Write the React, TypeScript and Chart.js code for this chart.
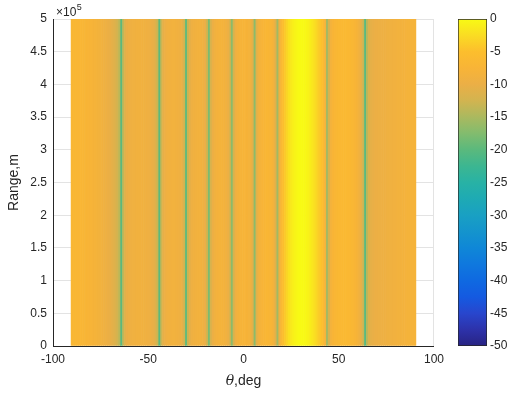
import React, { useEffect, useRef } from "react";
import { Chart, registerables } from "chart.js";

Chart.register(...registerables);

// ---- data -------------------------------------------------------------
// Steering angle samples, degrees
const THETA_DEG = [
  -90, -89, -88, -87, -86, -85, -84, -83, -82, -81,
  -80, -79, -78, -77, -76, -75, -74, -73, -72, -71,
  -70, -69, -68, -67, -66, -65, -64, -63, -62, -61,
  -60, -59, -58, -57, -56, -55, -54, -53, -52, -51,
  -50, -49, -48, -47, -46, -45, -44, -43, -42, -41,
  -40, -39, -38, -37, -36, -35, -34, -33, -32, -31,
  -30, -29, -28, -27, -26, -25, -24, -23, -22, -21,
  -20, -19, -18, -17, -16, -15, -14, -13, -12, -11,
  -10, -9, -8, -7, -6, -5, -4, -3, -2, -1,
  0, 1, 2, 3, 4, 5, 6, 7, 8, 9,
  10, 11, 12, 13, 14, 15, 16, 17, 18, 19,
  20, 21, 22, 23, 24, 25, 26, 27, 28, 29,
  30, 31, 32, 33, 34, 35, 36, 37, 38, 39,
  40, 41, 42, 43, 44, 45, 46, 47, 48, 49,
  50, 51, 52, 53, 54, 55, 56, 57, 58, 59,
  60, 61, 62, 63, 64, 65, 66, 67, 68, 69,
  70, 71, 72, 73, 74, 75, 76, 77, 78, 79,
  80, 81, 82, 83, 84, 85, 86, 87, 88, 89,
  90,
];

// Normalised pattern level (dB) at each angle, same for every range
const GAIN_DB = [
  -6.8, -6.8, -6.8, -6.9, -6.9, -7.0, -7.1, -7.2, -7.3, -7.5,
  -7.6, -7.8, -8.0, -8.2, -8.4, -8.6, -8.9, -9.2, -9.5, -9.8,
  -10.1, -10.5, -11.0, -11.6, -12.5, -14.0, -20.0, -13.5, -11.0, -10.0,
  -9.6, -9.3, -9.1, -9.0, -8.9, -8.9, -8.9, -8.9, -9.0, -9.1,
  -9.3, -9.5, -9.8, -10.3, -11.2, -13.0, -20.0, -13.0, -10.5, -9.6,
  -9.1, -8.9, -8.8, -8.7, -8.7, -8.8, -9.0, -9.4, -10.3, -12.5,
  -19.5, -13.0, -10.5, -9.5, -9.0, -8.8, -8.7, -8.7, -8.8, -9.2,
  -10.0, -12.5, -18.0, -12.0, -10.0, -9.0, -8.5, -8.3, -8.2, -8.2,
  -8.4, -8.8, -9.6, -11.5, -17.0, -12.0, -9.5, -8.5, -8.0, -7.8,
  -7.7, -7.7, -7.8, -8.2, -9.0, -11.0, -17.0, -11.0, -9.0, -8.0,
  -7.5, -7.2, -7.0, -7.0, -7.2, -7.5, -8.5, -11.0, -15.5, -9.0,
  -6.5, -5.0, -4.0, -3.0, -2.2, -1.5, -1.0, -0.6, -0.3, -0.1,
  0.0, 0.0, -0.1, -0.3, -0.6, -1.0, -1.5, -2.0, -2.6, -3.3,
  -4.0, -4.8, -5.8, -8.0, -15.5, -12.0, -8.5, -7.5, -7.0, -6.7,
  -6.5, -6.4, -6.3, -6.3, -6.3, -6.4, -6.5, -6.7, -7.0, -7.4,
  -8.0, -9.0, -10.5, -13.0, -20.0, -14.0, -11.5, -10.6, -10.2, -10.0,
  -9.8, -9.7, -9.6, -9.5, -9.4, -9.3, -9.2, -9.1, -9.0, -8.9,
  -8.8, -8.7, -8.6, -8.5, -8.4, -8.3, -8.2, -8.2, -8.1, -8.1,
  -8.0,
];

const RANGE_MAX_M = 500000;
const X_TICKS = [-100, -50, 0, 50, 100];
const Y_TICKS = [0, 50000, 100000, 150000, 200000, 250000, 300000, 350000, 400000, 450000, 500000];
const CB_TICKS = [-50, -45, -40, -35, -30, -25, -20, -15, -10, -5, 0];
const CB_MIN = -50;
const CB_MAX = 0;

// colormap stops (dB -> rgb), parula-like as seen in the colour bar
const CMAP_DB = [-50, -47.5, -45, -42.5, -40, -37.5, -35, -32.5, -30, -27.5, -25, -22.5, -20, -17.5, -15, -12.5, -10, -7.5, -5, -2.5, 0];
const CMAP_RGB = [
  [40, 35, 130], [45, 50, 170], [40, 70, 205], [20, 90, 225], [15, 105, 225],
  [15, 120, 222], [15, 135, 215], [20, 148, 205], [25, 160, 195], [30, 170, 180],
  [40, 178, 165], [60, 182, 145], [90, 185, 125], [130, 188, 110], [170, 185, 95],
  [210, 180, 80], [235, 175, 70], [248, 180, 55], [252, 190, 45], [250, 220, 35],
  [248, 250, 20],
];

const FONT = '"Liberation Sans", Arial, Helvetica, sans-serif';
const TEXT = "#262626";

function dbToColor(v: number): string {
  const x = Math.max(CB_MIN, Math.min(CB_MAX, v));
  for (let i = 0; i < CMAP_DB.length - 1; i++) {
    if (x >= CMAP_DB[i] && x <= CMAP_DB[i + 1]) {
      const t = (x - CMAP_DB[i]) / (CMAP_DB[i + 1] - CMAP_DB[i]);
      const a = CMAP_RGB[i];
      const b = CMAP_RGB[i + 1];
      const c = a.map((av, k) => Math.round(av + (b[k] - av) * t));
      return `rgb(${c[0]},${c[1]},${c[2]})`;
    }
  }
  const l = CMAP_RGB[CMAP_RGB.length - 1];
  return `rgb(${l[0]},${l[1]},${l[2]})`;
}

const textPlugin = {
  id: "axisTexts",
  afterDraw(chart: any) {
    const { ctx, chartArea } = chart;
    ctx.save();
    ctx.fillStyle = TEXT;
    // x title: italic theta + ",deg"
    const cx = (chartArea.left + chartArea.right) / 2;
    const ty = 381;
    ctx.textBaseline = "middle";
    ctx.font = `italic 14px "DejaVu Serif", "Liberation Serif", serif`;
    const w1 = ctx.measureText("θ").width;
    ctx.font = `14px ${FONT}`;
    const w2 = ctx.measureText(",deg").width;
    const x0 = cx - (w1 + w2) / 2;
    ctx.textAlign = "left";
    ctx.font = `italic 14px "DejaVu Serif", "Liberation Serif", serif`;
    ctx.fillText("θ", x0, ty);
    ctx.font = `14px ${FONT}`;
    ctx.fillText(",deg", x0 + w1, ty);
    // y title
    ctx.save();
    ctx.translate(14, (chartArea.top + chartArea.bottom) / 2);
    ctx.rotate(-Math.PI / 2);
    ctx.textAlign = "center";
    ctx.textBaseline = "middle";
    ctx.font = `14px ${FONT}`;
    ctx.fillText("Range,m", 0, 0);
    ctx.restore();
    // exponent label
    ctx.textAlign = "left";
    ctx.textBaseline = "alphabetic";
    ctx.font = `12px ${FONT}`;
    ctx.fillText("×10", 56, 16);
    const wx = ctx.measureText("×10").width;
    ctx.font = `9px ${FONT}`;
    ctx.fillText("5", 56 + wx + 0.5, 10);
    ctx.restore();
  },
};

export default function App() {
  const mainRef = useRef<HTMLCanvasElement>(null);
  const cbRef = useRef<HTMLCanvasElement>(null);

  useEffect(() => {
    const tickFont = { family: FONT, size: 12 };
    const main = new Chart(mainRef.current as HTMLCanvasElement, {
      type: "bar",
      data: {
        datasets: [
          {
            data: THETA_DEG.map((t) => ({ x: t, y: RANGE_MAX_M })) as any,
            backgroundColor: GAIN_DB.map(dbToColor),
            borderWidth: 0,
            barPercentage: 1,
            categoryPercentage: 1,
          },
        ],
      },
      options: {
        animation: false,
        responsive: false,
        maintainAspectRatio: false,
        layout: { padding: { left: 0, right: 16, top: 19, bottom: 0 } },
        plugins: { legend: { display: false }, tooltip: { enabled: false } },
        scales: {
          x: {
            type: "linear",
            offset: false,
            min: -100,
            max: 100,
            afterBuildTicks: (s: any) => {
              s.ticks = X_TICKS.map((v) => ({ value: v }));
            },
            afterFit: (s: any) => {
              s.height = 48;
            },
            grid: { color: "#e3e3e3", drawTicks: false, offset: false },
            border: { color: TEXT, width: 1 },
            ticks: { font: tickFont, color: TEXT, padding: 6, maxRotation: 0, autoSkip: false },
          },
          y: {
            type: "linear",
            min: 0,
            max: RANGE_MAX_M,
            afterBuildTicks: (s: any) => {
              s.ticks = Y_TICKS.map((v) => ({ value: v }));
            },
            afterFit: (s: any) => {
              s.width = 53;
            },
            grid: { color: "#e3e3e3", drawTicks: false },
            border: { color: TEXT, width: 1 },
            ticks: {
              font: tickFont,
              color: TEXT,
              padding: 6,
              autoSkip: false,
              callback: (v: any) => String(Number(v) / 100000),
            },
          },
        },
      },
      plugins: [textPlugin],
    });

    const cb = new Chart(cbRef.current as HTMLCanvasElement, {
      type: "bar",
      data: {
        labels: ["cb"],
        datasets: [
          {
            data: [[CB_MIN, CB_MAX]] as any,
            backgroundColor: (c: any) => {
              const area = c.chart.chartArea;
              if (!area) return dbToColor(-10);
              const ys = c.chart.scales.y;
              const g = c.chart.ctx.createLinearGradient(0, ys.getPixelForValue(CB_MIN), 0, ys.getPixelForValue(CB_MAX));
              CMAP_DB.forEach((d) => {
                g.addColorStop((d - CB_MIN) / (CB_MAX - CB_MIN), dbToColor(d));
              });
              return g;
            },
            borderColor: TEXT,
            borderWidth: 1,
            borderSkipped: false,
            barPercentage: 1,
            categoryPercentage: 1,
          },
        ],
      },
      options: {
        animation: false,
        responsive: false,
        maintainAspectRatio: false,
        layout: { padding: { left: 8, right: 0, top: 19, bottom: 48 } },
        plugins: { legend: { display: false }, tooltip: { enabled: false } },
        scales: {
          x: { display: false },
          y: {
            position: "right",
            min: CB_MIN,
            max: CB_MAX,
            afterBuildTicks: (s: any) => {
              s.ticks = CB_TICKS.map((v) => ({ value: v }));
            },
            afterFit: (s: any) => {
              s.width = 26;
            },
            grid: { display: false, drawTicks: false },
            border: { display: false },
            ticks: { font: tickFont, color: TEXT, padding: 3, autoSkip: false },
          },
        },
      },
    });

    return () => {
      main.destroy();
      cb.destroy();
    };
  }, []);

  return (
    <div style={{ position: "absolute", left: 0, top: 0, width: 513, height: 394, background: "#fff" }}>
      <canvas ref={mainRef} width={450} height={394} style={{ position: "absolute", left: 0, top: 0 }} />
      <canvas ref={cbRef} width={63} height={394} style={{ position: "absolute", left: 450, top: 0 }} />
    </div>
  );
}
